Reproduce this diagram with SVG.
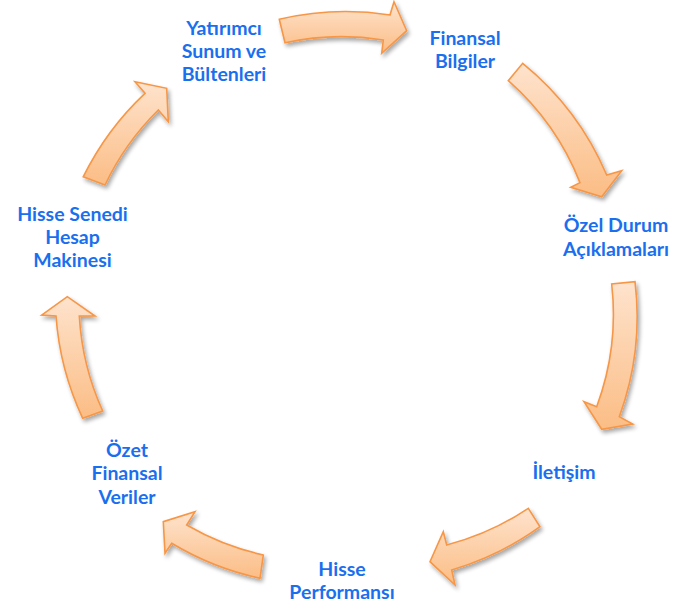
<svg xmlns="http://www.w3.org/2000/svg" width="681" height="611" viewBox="0 0 681 611">
<defs>
<linearGradient id="ag" x1="0" y1="0" x2="0" y2="1">
<stop offset="0" stop-color="#FEE3CD"/>
<stop offset="1" stop-color="#FBBD85"/>
</linearGradient>
<filter id="sh" x="-20%" y="-20%" width="140%" height="140%">
<feGaussianBlur in="SourceAlpha" stdDeviation="2"/>
<feOffset dx="1.5" dy="2.5" result="b"/>
<feComponentTransfer><feFuncA type="linear" slope="0.35"/></feComponentTransfer>
<feMerge><feMergeNode/><feMergeNode in="SourceGraphic"/></feMerge>
</filter>
<style>
.arr{fill:url(#ag);stroke:#F79646;stroke-width:1.6;stroke-linejoin:miter;filter:url(#sh)}
.lbl{font-family:Lato,"Liberation Sans",sans-serif;font-weight:bold;font-size:19.5px;fill:#1A6FEE;text-anchor:middle}
</style>
</defs>
<g id="connectors">
<path class="arr" d="M279.3,19.3 A290,290 0 0 1 390,15 L394,1.7 L406.7,30.7 L381.7,53.3 L383.3,40 A266,266 0 0 0 285,42.7 Z"/>
<path class="arr" d="M522.7,63.3 A290,290 0 0 1 606.7,175 L621.7,170.7 L601.7,196.7 L570.7,187.3 L580,182.7 A266,266 0 0 0 508.3,80.7 Z"/>
<path class="arr" d="M635,281.7 A290,290 0 0 1 619.3,416.7 L632.7,424 L601.7,429.3 L584,401.7 L596.7,406.7 A266,266 0 0 0 611.7,284 Z"/>
<path class="arr" d="M540,526.7 A290,290 0 0 1 451.7,570 L455,585 L430,561.7 L443.3,531.7 L446.7,545 A266,266 0 0 0 528.3,508.3 Z"/>
<path class="arr" d="M260,578.3 A290,290 0 0 1 171.7,543.3 L165,553.3 L163.3,521.7 L195,511.7 L186.7,525 A266,266 0 0 0 263.3,555 Z"/>
<path class="arr" d="M82.7,418.3 A290,290 0 0 1 56,316 L41.7,315 L67.3,296.7 L95,316 L79.3,316 A266,266 0 0 0 102.7,411 Z"/>
<path class="arr" d="M83.3,176.7 A290,290 0 0 1 145,93.3 L135,81.7 L166.7,88.3 L168.3,121.7 L158.3,110 A266,266 0 0 0 105,185 Z"/>
</g>
<g id="node-yatirimci"><text class="lbl"><tspan x="224" y="34.5">Yatırımcı</tspan><tspan x="224" y="57.5">Sunum ve</tspan><tspan x="224" y="80.5">Bültenleri</tspan></text></g>
<g id="node-finansal-bilgiler"><text class="lbl"><tspan x="465" y="44.5">Finansal</tspan><tspan x="465" y="67.8">Bilgiler</tspan></text></g>
<g id="node-ozel-durum"><text class="lbl"><tspan x="616" y="232">Özel Durum</tspan><tspan x="616" y="255.5">Açıklamaları</tspan></text></g>
<g id="node-iletisim"><text class="lbl"><tspan x="564" y="478.5">İletişim</tspan></text></g>
<g id="node-hisse-performansi"><text class="lbl"><tspan x="342" y="575.5">Hisse</tspan><tspan x="342" y="598.8">Performansı</tspan></text></g>
<g id="node-ozet-finansal"><text class="lbl"><tspan x="127" y="457">Özet</tspan><tspan x="127" y="480.3">Finansal</tspan><tspan x="127" y="503.6">Veriler</tspan></text></g>
<g id="node-hisse-senedi"><text class="lbl"><tspan x="72.5" y="220.5">Hisse Senedi</tspan><tspan x="72.5" y="243.8">Hesap</tspan><tspan x="72.5" y="267.1">Makinesi</tspan></text></g>
</svg>
